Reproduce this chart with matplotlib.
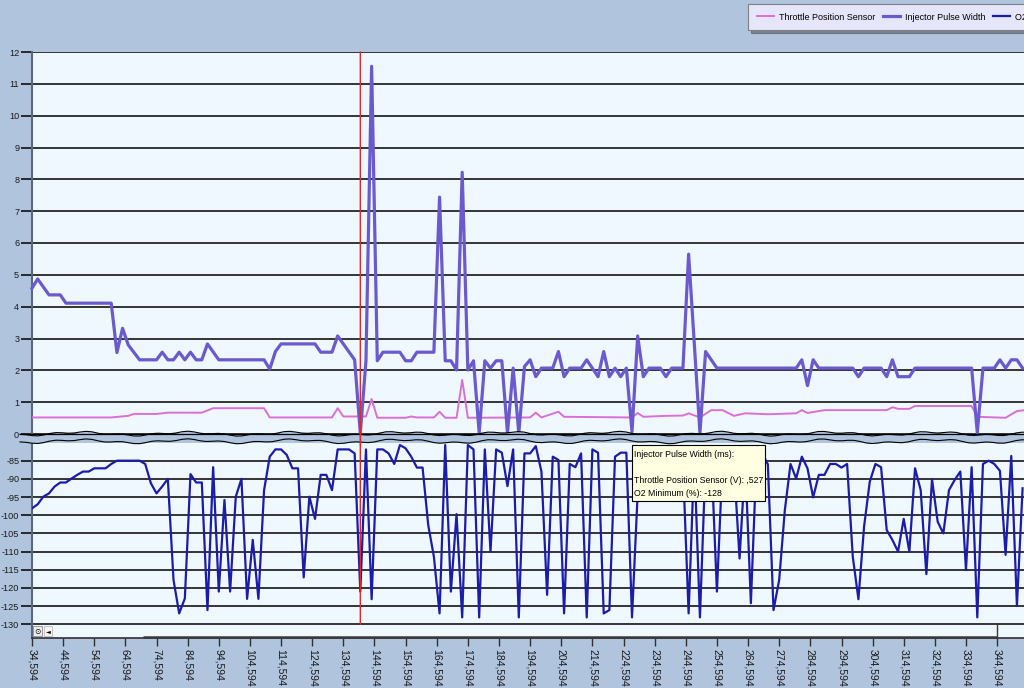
import numpy as np
import matplotlib.pyplot as plt
from matplotlib.patches import Rectangle, ConnectionPatch

W, H = 1024, 688
plt.rcParams['font.family'] = ['Liberation Sans', 'DejaVu Sans']
plt.rcParams['axes.unicode_minus'] = False

# log sampling: first sample time and sample period (s)
T0 = 34.594
DT = 1.818
cursor_idx = 58

# Injector Pulse Width (ms), vertices as (sample index, value)
ipw_idx = [0, 1, 3, 5, 6, 14, 15, 16, 17, 19, 22, 23, 24, 25, 26, 27, 28, 29, 30, 31,
           33, 41, 42, 43, 44, 50, 51, 53, 54, 57, 58, 59, 60, 61, 62, 65, 66, 67, 68, 71,
           72, 73, 74, 75, 76, 77, 78, 79, 80, 81, 82, 83, 84, 85, 86, 87, 88, 89, 90, 92,
           93, 94, 95, 97, 98, 100, 101, 102, 103, 104, 105, 106, 107, 108, 109, 111, 112,
           113, 115, 116, 117, 118, 119, 121, 135, 136, 137, 138, 139, 145, 146, 147, 150,
           151, 152, 153, 155, 156, 166, 167, 168, 170, 171, 172, 173, 174, 175]
ipw_val = [4.58, 4.87, 4.37, 4.37, 4.11, 4.11, 2.56, 3.32, 2.80, 2.33, 2.33, 2.57, 2.33, 2.33,
           2.57, 2.33, 2.57, 2.33, 2.33, 2.83, 2.33, 2.33, 2.04, 2.59, 2.83, 2.83, 2.57, 2.57,
           3.08, 2.33, 0.02, 2.30, 11.55, 2.30, 2.57, 2.57, 2.30, 2.30, 2.57, 2.57, 7.44, 2.30,
           2.30, 2.01, 8.22, 2.01, 2.30, 0.04, 2.30, 2.07, 2.30, 2.30, 0.03, 2.07, 0.03, 2.12,
           2.33, 1.80, 2.07, 2.07, 2.59, 1.80, 2.07, 2.07, 2.33, 1.80, 2.59, 1.80, 2.07, 1.80,
           2.07, 0.07, 3.08, 1.80, 2.07, 2.07, 1.80, 2.07, 2.07, 5.65, 2.85, 0.04, 2.59, 2.07,
           2.07, 2.33, 1.52, 2.33, 2.07, 2.07, 1.80, 2.07, 2.07, 1.80, 2.33, 1.80, 1.80, 2.07,
           2.07, 0.04, 2.07, 2.07, 2.33, 2.07, 2.33, 2.33, 2.07]

# Throttle Position Sensor (V), vertices as (sample index, value)
tps_idx = [0, 14, 17, 18, 22, 24, 30, 32, 41, 42, 53, 54, 55, 58, 59, 60, 61, 66, 67, 68,
           71, 72, 73, 75, 76, 77, 88, 89, 90, 93, 94, 100, 106, 107, 108, 112, 115, 116,
           118, 120, 122, 124, 126, 130, 135, 136, 137, 140, 151, 152, 153, 155, 156, 166,
           167, 172, 174, 176]
tps_val = [0.52, 0.52, 0.57, 0.63, 0.63, 0.67, 0.67, 0.81, 0.81, 0.52, 0.52, 0.81, 0.55, 0.55,
           0.55, 1.10, 0.51, 0.51, 0.55, 0.52, 0.52, 0.70, 0.51, 0.51, 1.70, 0.51, 0.52, 0.67,
           0.52, 0.70, 0.54, 0.53, 0.52, 0.66, 0.54, 0.57, 0.58, 0.65, 0.52, 0.75, 0.75, 0.57,
           0.65, 0.62, 0.65, 0.75, 0.66, 0.75, 0.75, 0.84, 0.79, 0.79, 0.88, 0.88, 0.54, 0.51,
           0.72, 0.76]

# O2 Minimum (%), every sample
o2_min = [-98.1, -97.0, -94.9, -94.0, -92.1, -91.0, -91.0, -89.9, -88.9, -88.0,
          -88.0, -87.1, -87.1, -87.1, -85.9, -85.0, -85.0, -85.0, -85.0, -85.0,
          -85.9, -91.2, -94.0, -92.1, -90.0, -117.8, -127.0, -122.9, -88.7, -91.0,
          -91.0, -126.1, -86.8, -121.0, -95.8, -121.0, -94.9, -90.0, -123.0, -106.8,
          -123.0, -93.1, -83.9, -81.9, -81.9, -83.4, -87.1, -87.1, -117.1, -94.9,
          -101.0, -88.9, -88.9, -93.1, -81.9, -81.9, -81.9, -83.0, -121.0, -81.9,
          -123.1, -81.9, -81.9, -83.0, -85.9, -80.7, -81.6, -83.9, -86.9, -86.9,
          -102.7, -111.4, -127.0, -80.7, -121.0, -99.7, -128.1, -80.7, -81.9, -128.1,
          -81.9, -110.0, -81.9, -82.8, -92.0, -81.9, -128.1, -83.0, -83.0, -81.0,
          -88.0, -121.9, -83.9, -84.8, -127.0, -85.9, -86.8, -83.0, -128.1, -81.9,
          -82.8, -127.0, -126.1, -83.9, -82.8, -82.8, -128.1, -94.0, -84.0, -83.0,
          -87.0, -84.0, -82.0, -85.0, -83.0, -86.0, -127.0, -84.0, -128.1, -85.0,
          -83.0, -121.0, -85.0, -84.0, -86.0, -111.9, -85.0, -124.2, -84.0, -83.0,
          -86.0, -126.1, -117.8, -98.6, -85.9, -89.9, -83.9, -87.1, -95.1, -88.9,
          -88.9, -85.9, -85.9, -86.9, -85.9, -111.4, -123.1, -103.1, -90.8, -85.9,
          -86.8, -104.1, -106.8, -110.0, -101.0, -110.0, -87.1, -93.1, -116.2, -90.1,
          -101.8, -105.0, -93.1, -90.3, -88.0, -115.1, -86.8, -128.1, -85.9, -85.0,
          -85.9, -87.8, -110.9, -83.7, -124.9, -92.6]

series_names = ['Throttle Position Sensor', 'Injector Pulse Width', 'O2 Minimum']
tooltip_lines = ['Injector Pulse Width (ms):', '',
                 'Throttle Position Sensor (V): ,527', 'O2 Minimum (%): -128']

BG = '#B0C4DE'
PLOT_BG = '#F0F8FF'
C_TPS = '#DA70D6'
C_IPW = '#6A5ACD'
C_O2 = '#1C1CAA'


def px_box(x0, y0, x1, y1):
    return [x0 / W, 1 - y1 / H, (x1 - x0) / W, (y1 - y0) / H]


fig = plt.figure(figsize=(W / 100, H / 100), dpi=100, facecolor=BG)
ax_t = fig.add_axes(px_box(32, 52, 1024, 434), facecolor=PLOT_BG)
ax_b = fig.add_axes(px_box(32, 442.5, 1024, 638), facecolor=PLOT_BG, sharex=ax_t)

t_ipw = T0 + DT * np.array(ipw_idx)
t_tps = T0 + DT * np.array(tps_idx)
t_o2 = T0 + DT * np.arange(len(o2_min))

l_tps, = ax_t.plot(t_tps, tps_val, color=C_TPS, lw=1.4, zorder=3)
l_ipw, = ax_t.plot(t_ipw, ipw_val, color=C_IPW, lw=2.3, zorder=4, clip_on=False)
l_o2, = ax_b.plot(t_o2, o2_min, color=C_O2, lw=1.6, zorder=3)

ax_t.set_xlim(T0, 353.2)
ax_t.set_ylim(0, 12)
ax_b.set_ylim(-133.77, -80)

ax_t.set_yticks(range(0, 13))
ax_t.set_yticklabels([str(v) for v in range(0, 13)])
b_ticks = list(range(-85, -131, -5))
ax_b.set_yticks(b_ticks)
ax_b.set_yticklabels([str(v) for v in b_ticks])

for ax in (ax_t, ax_b):
    ax.grid(axis='y', color='black', lw=1.1, zorder=1)
    ax.set_axisbelow(True)
    ax.tick_params(axis='y', length=8.2, width=1.1, color='black', pad=1,
                   labelsize=6.6, labelcolor='#1a1a1a')
    for s in ('top', 'right', 'bottom'):
        ax.spines[s].set_visible(False)
    ax.spines['left'].set_color('#5a6878')
    ax.spines['left'].set_linewidth(1.5)

ax_t.tick_params(axis='x', bottom=False, labelbottom=False)
ax_b.spines['bottom'].set_visible(True)
ax_b.spines['bottom'].set_color('#303030')
ax_b.spines['bottom'].set_linewidth(1.2)

x_ticks = T0 + 10 * np.arange(32)
ax_b.set_xticks(x_ticks)
ax_b.set_xticklabels([f'{v:.3f}'.replace('.', ',') for v in x_ticks], rotation=270,
                     ha='center', va='top', fontsize=7.5, color='#1a1a1a')
ax_b.tick_params(axis='x', length=6, width=1, color='#303030', pad=2)

# cursor line through both panels
tc = T0 + DT * cursor_idx
cur = ConnectionPatch(xyA=(tc, 12), coordsA=ax_t.transData, xyB=(tc, -130),
                      coordsB=ax_b.transData, color='#E02828', lw=1.0, zorder=10)
fig.add_artist(cur)

# overlay in pixel coordinates for the axis break, scrollbar and tooltip
ov = fig.add_axes([0, 0, 1, 1], zorder=5)
ov.set_xlim(0, W)
ov.set_ylim(H, 0)
ov.axis('off')
ov.patch.set_visible(False)

xs = np.arange(20, W + 6, 6.0)
wave = 437.5 + 1.6 * np.sin(xs / 17.0) + 0.9 * np.sin(xs / 5.3 + 0.7)
ov.fill_between(xs, wave - 3.8, wave + 3.8, color=BG, lw=0)
ov.plot([20, W], [434, 434], color='black', lw=0.9)
ov.plot(xs, wave - 3.8, color='black', lw=0.8)
ov.plot(xs, wave + 3.8, color='black', lw=0.8)
tc_px = ax_t.transData.transform((tc, 0))[0]
ov.plot([tc_px, tc_px], [430, 445], color='#E02828', lw=1.0)

# scrollbar under the lower panel
ov.plot([143, 997], [636.6, 636.6], color='#3a3a3a', lw=1.8, solid_capstyle='butt')
ov.plot([997, 997], [625, 637], color='#3a3a3a', lw=1.0)
ov.add_patch(Rectangle((33, 626), 9, 10, facecolor='#ECECEC', edgecolor='#8a8a8a', lw=0.6))
ov.text(37.5, 631.3, '⊙', fontsize=5.5, ha='center', va='center', family='DejaVu Sans')
ov.add_patch(Rectangle((44, 626), 8, 10, facecolor='#F4F4F4', edgecolor='#b0b0b0', lw=0.5))
ov.text(48, 631.3, '◄', fontsize=4.5, ha='center', va='center', family='DejaVu Sans')

# tooltip
ov.add_patch(Rectangle((632, 445), 133, 56, facecolor='#FFFFE1', edgecolor='black', lw=0.8))
for k, line in enumerate(tooltip_lines):
    ov.text(634.5, 454.5 + 12.9 * k, line, fontsize=6.3, ha='left', va='center',
            color='black')

leg = fig.legend([l_tps, l_ipw, l_o2], series_names, loc='upper left',
                 bbox_to_anchor=(748 / W, 1 - 4 / H), ncol=3, fontsize=6.5,
                 borderaxespad=0, borderpad=0.95, handlelength=1.9, handletextpad=0.6,
                 columnspacing=0.8, frameon=True, fancybox=False, shadow=True,
                 facecolor='#E6E6FA', edgecolor='#808080', framealpha=1)
leg.get_frame().set_linewidth(0.8)

fig.savefig('out.png', dpi=100, facecolor=BG)
